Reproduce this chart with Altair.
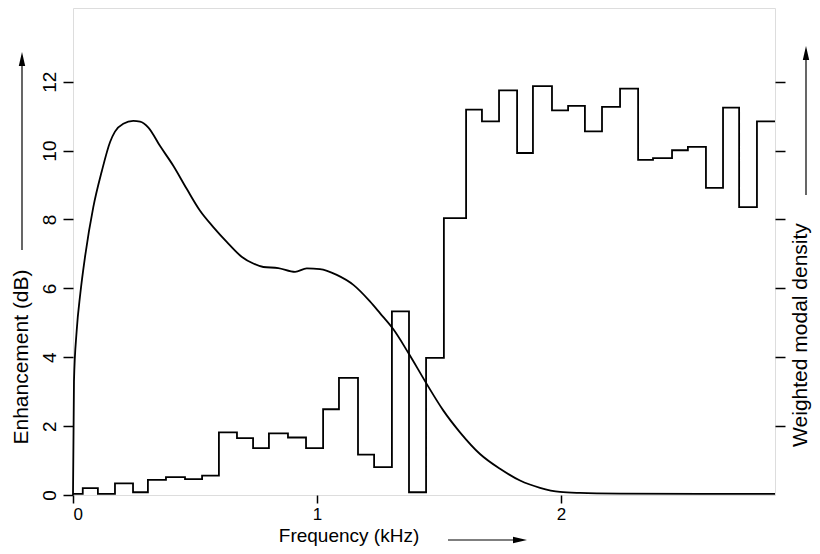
import altair as alt
import pandas as pd

# ---- data ----
# Weighted modal density: step histogram, bin edges (kHz) and bin heights
bin_edges = [0.000, 0.040, 0.102, 0.172, 0.246, 0.307, 0.381, 0.459, 0.529, 0.598,
             0.672, 0.738, 0.803, 0.881, 0.955, 1.025, 1.090, 1.168, 1.234, 1.307,
             1.377, 1.447, 1.520, 1.611, 1.676, 1.746, 1.820, 1.885, 1.963, 2.029,
             2.098, 2.168, 2.242, 2.316, 2.377, 2.455, 2.520, 2.594, 2.664, 2.730,
             2.803, 2.877]
modal_density = [0.03, 0.20, 0.03, 0.34, 0.08, 0.44, 0.52, 0.46, 0.56, 1.82,
                 1.65, 1.36, 1.79, 1.67, 1.36, 2.49, 3.40, 1.17, 0.81, 5.33,
                 0.08, 3.98, 8.04, 11.19, 10.85, 11.75, 9.93, 11.87, 11.17, 11.30,
                 10.56, 11.27, 11.80, 9.73, 9.78, 10.01, 10.11, 8.92, 11.25, 8.36,
                 10.85]

# Enhancement curve (dB)
curve_freq = [0.000, 0.004, 0.015, 0.030, 0.049, 0.083, 0.118, 0.152, 0.172, 0.206,
              0.247, 0.275, 0.309, 0.357, 0.411, 0.466, 0.520, 0.575, 0.630, 0.691,
              0.739, 0.780, 0.841, 0.910, 0.958, 1.012, 1.081, 1.149, 1.217, 1.258,
              1.313, 1.374, 1.450, 1.518, 1.586, 1.668, 1.750, 1.832, 1.914, 1.996,
              2.078, 2.242, 2.570, 2.877]
enhancement = [0.00, 3.30, 4.76, 5.85, 6.90, 8.35, 9.40, 10.25, 10.55, 10.78,
               10.86, 10.84, 10.67, 10.13, 9.56, 8.89, 8.26, 7.78, 7.35, 6.92,
               6.72, 6.62, 6.59, 6.48, 6.58, 6.56, 6.39, 6.10, 5.62, 5.28,
               4.81, 4.13, 3.22, 2.45, 1.82, 1.19, 0.76, 0.42, 0.21, 0.09,
               0.06, 0.04, 0.03, 0.03]

x_ticks = [0, 1, 2]
left_ticks = [0, 2, 4, 6, 8, 10, 12]
right_ticks = [2, 4, 6, 8, 10, 12]

x_title = "Frequency (kHz)"
left_title = "Enhancement (dB)"
right_title = "Weighted modal density"

FONT = "Liberation Sans"
X_MAX = 2.877
Y_MAX = 14.14

hist_df = pd.DataFrame({"freq": bin_edges, "density": modal_density + [modal_density[-1]]})
curve_df = pd.DataFrame({"freq": curve_freq, "enh": enhancement})
one = pd.DataFrame({"a": [0]})

x_axis = alt.Axis(values=x_ticks, title=None, grid=False, domain=False, tickSize=8,
                  tickWidth=1.5, tickColor="black", labelFontSize=17, labelFont=FONT,
                  labelColor="black", labelPadding=3, format="d")
x_enc = alt.X("freq:Q", scale=alt.Scale(domain=[0, X_MAX], nice=False, zero=False), axis=x_axis)

curve = alt.Chart(curve_df).mark_line(
    color="black", strokeWidth=1.8, interpolate="monotone"
).encode(
    x=x_enc,
    y=alt.Y("enh:Q", scale=alt.Scale(domain=[0, Y_MAX], nice=False),
            axis=alt.Axis(orient="left", values=left_ticks, title=None, grid=False,
                          domain=False, tickSize=10, tickWidth=1.5, tickColor="black",
                          labelAngle=270, labelAlign="center", labelBaseline="alphabetic",
                          labelPadding=8, labelFontSize=19, labelFont=FONT,
                          labelColor="black", format="d")),
)

hist = alt.Chart(hist_df).mark_line(
    color="black", strokeWidth=1.8, interpolate="step-after"
).encode(
    x=x_enc,
    y=alt.Y("density:Q", scale=alt.Scale(domain=[0, Y_MAX], nice=False),
            axis=alt.Axis(orient="right", values=right_ticks, title=None, grid=False,
                          domain=False, tickSize=10, tickWidth=1.5, tickColor="black",
                          labels=False)),
)

def text_layer(txt, x, y, angle=0, baseline="middle", size=21):
    return alt.Chart(one).mark_text(
        text=txt, font=FONT, fontSize=size, color="black", angle=angle,
        align="center", baseline=baseline
    ).encode(x=alt.value(x), y=alt.value(y))

def vrule(x, y1, y2):
    return alt.Chart(one).mark_rule(color="black", strokeWidth=1.2).encode(
        x=alt.value(x), y=alt.value(y1), y2=alt.value(y2))

def hrule(x1, x2, y):
    return alt.Chart(one).mark_rule(color="black", strokeWidth=1.2).encode(
        x=alt.value(x1), x2=alt.value(x2), y=alt.value(y))

HEAD = "M0,-1L0.32,0.4L-0.32,0.4Z"

def head(x, y, angle):
    return alt.Chart(one).mark_point(
        shape=HEAD, filled=True, color="black", opacity=1, size=400, angle=angle,
        strokeWidth=0
    ).encode(x=alt.value(x), y=alt.value(y))

annotations = [
    text_layer(x_title, 276, 534, baseline="alphabetic", size=19),
    hrule(375, 446, 532), head(444, 532, 90),
    text_layer(left_title, -51, 349, angle=270),
    vrule(-51, 242, 56), head(-51, 54, 0),
    text_layer(right_title, 728, 327, angle=270),
    vrule(733, 187, 50), head(733, 48, 0),
]

chart = alt.layer(curve, hist, *annotations).resolve_scale(
    y="independent"
).properties(
    width=702, height=487,
    autosize=alt.AutoSizeParams(type="none"),
    padding={"left": 65, "top": 0, "right": 37, "bottom": 51},
).configure_view(
    stroke="black", strokeWidth=1.5
).configure(background="white")

chart.save("out.html", embed_options={"renderer": "svg", "actions": False})
